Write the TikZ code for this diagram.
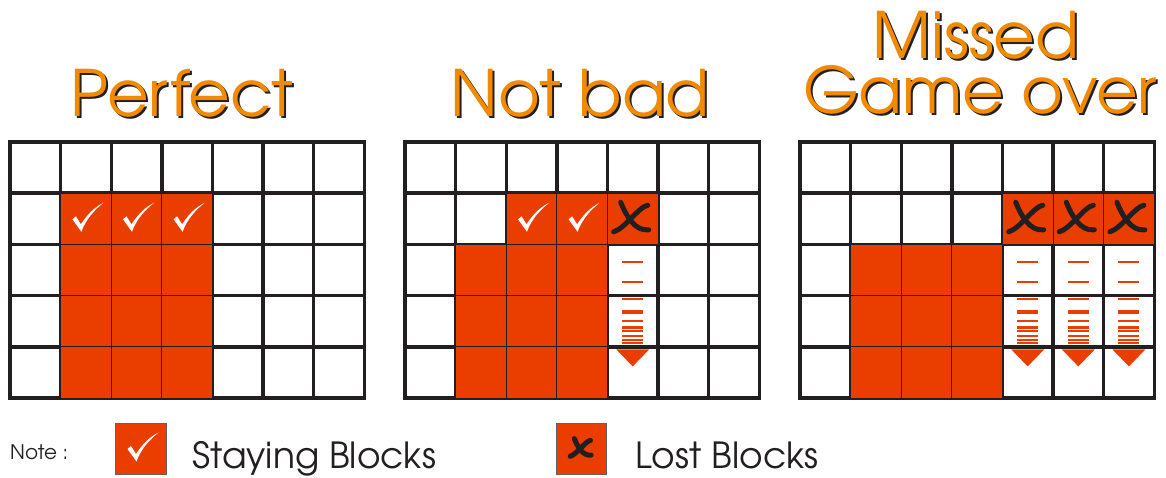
\documentclass[tikz,border=0pt]{standalone}
\usepackage{fontspec}
\setmainfont{TeX Gyre Adventor}
\usetikzlibrary{positioning,calc}
\definecolor{blockred}{HTML}{EA3E00}
\definecolor{titleorange}{HTML}{F28A00}
\definecolor{gridink}{HTML}{231F20}

\tikzset{
    gridline/.style={draw=gridink, line width=3.4pt, line cap=rect},
    block/.style={fill=blockred, draw=gridink, line width=0.8pt},
    legendbox/.style={fill=blockred, draw=gridink!70, line width=0.8pt, minimum width=50.6pt, minimum height=51pt, inner sep=0},
    title/.style={font=\fontsize{64}{66}\selectfont, text=titleorange, inner sep=0, anchor=base},
    legendtext/.style={font=\fontsize{36}{38}\selectfont, text=gridink, inner sep=0, anchor=base west},
    tick/.pic={
        \fill[white] (-13.5,0.5) -- (-10,-2.5) -- (-5,5.5) .. controls (2,-5) and (8,-11) .. (17.5,-16)
            .. controls (9,-9) and (0,0) .. (-4.5,13) -- cycle;
    },
    cross/.pic={
        \draw[gridink, line width=5pt, line cap=round] (-12,-16.5) .. controls (-7,-4) and (2,13) .. (16,11);
        \draw[gridink, line width=5pt, line cap=round] (15,-13.5) .. controls (6,-12) and (-8,10) .. (-19,13);
    },
    fall/.pic={
        \foreach \d/\t in {17.7/2,37.7/2,54.7/2,67.7/3.5,76.7/2,82.7/3,87/2,91.7/2,95.3/2,98.3/2}
            \fill[blockred] (-10.5,{\d-\t/2}) rectangle (10.5,{\d+\t/2});
        \fill[blockred] (-16.5,105) -- (16.5,105) -- (0,122) -- cycle;
    }
}

% cell helpers: grid left edge, column, row
\newcommand{\putblock}[3]{\draw[block] ({#1+#2*50.6},{142+#3*51.2}) rectangle +(50.6,51.2);}
\newcommand{\putpic}[4]{\pic at ({#1+(#2+0.5)*50.6},{142+(#3+0.5)*51.2}) {#4};}
\newcommand{\shadowtitle}[3]{
    \node[title, text=gridink] at ($(#2)+(2,2)$) {#3};
    \node[title] (#1) at (#2) {#3};
}

\begin{document}
\begin{tikzpicture}[x=1pt, y=-1pt]
    \useasboundingbox (0,0) rectangle (1166,478);

    % Titles
    \shadowtitle{perfect}{182,117}{Perfect}
    \shadowtitle{notbad}{580,117}{Not bad}
    \shadowtitle{missed}{976,59}{Missed}
    \shadowtitle{gameover}{980,114}{Game over}

    % Grid frames
    \foreach \gx in {10,405,800} {
        \foreach \i in {0,...,7} {
            \draw[gridline] ({\gx+\i*50.6},142) -- ({\gx+\i*50.6},398);
        }
        \foreach \j in {0,...,5} {
            \draw[gridline] (\gx,{142+\j*51.2}) -- ({\gx+354.2},{142+\j*51.2});
        }
    }

    % Perfect: three full columns
    \foreach \c in {1,2,3} {
        \foreach \r in {1,...,4} {
            \putblock{10}{\c}{\r}
        }
        \putpic{10}{\c}{1}{tick}
    }

    % Not bad: shifted top row, one block lost
    \foreach \c in {1,2,3} {
        \foreach \r in {2,3,4} {
            \putblock{405}{\c}{\r}
        }
    }
    \foreach \c in {2,3,4} {
        \putblock{405}{\c}{1}
    }
    \putpic{405}{2}{1}{tick}
    \putpic{405}{3}{1}{tick}
    \putpic{405}{4}{1}{cross}
    \pic at ({405+4.5*50.6},{142+2*51.2}) {fall};

    % Missed: whole top row lost
    \foreach \c in {1,2,3} {
        \foreach \r in {2,3,4} {
            \putblock{800}{\c}{\r}
        }
    }
    \foreach \c in {4,5,6} {
        \putblock{800}{\c}{1}
        \putpic{800}{\c}{1}{cross}
        \pic at ({800+(\c+0.5)*50.6},{142+2*51.2}) {fall};
    }

    % Legend
    \node[anchor=base west, font=\fontsize{20}{22}\selectfont, text=gridink, inner sep=0] (note) at (10,459) {Note :};
    \node[legendbox] (stay) at (141,448.5) {};
    \pic at (stay.center) {tick};
    \node[legendtext] (staytext) at (192,468) {Staying Blocks};
    \node[legendbox] (lost) at (581.5,448.5) {};
    \pic[scale=0.6] at (lost.center) {cross};
    \node[legendtext] (losttext) at (635,468) {Lost Blocks};
\end{tikzpicture}
\end{document}
